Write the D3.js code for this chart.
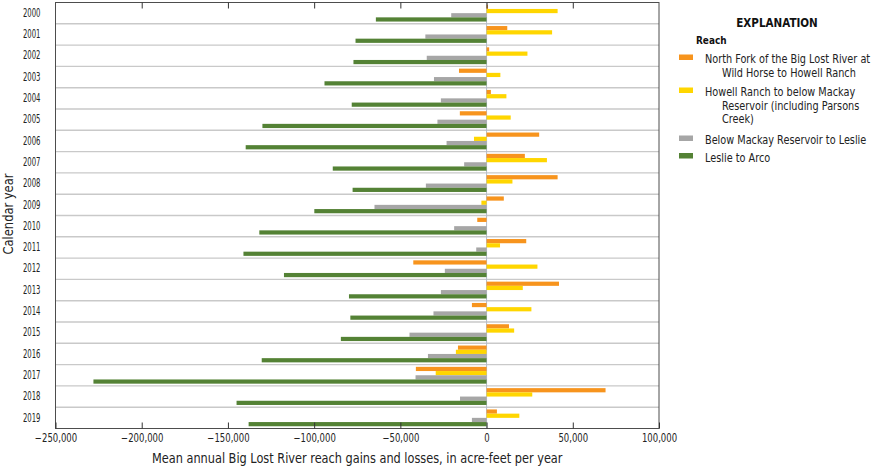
<!DOCTYPE html>
<html>
<head>
<meta charset="utf-8">
<script src="https://cdn.jsdelivr.net/npm/d3@7"></script>
<style>
  body { margin: 0; background: #fff; }
  svg text { font-family: "DejaVu Sans", sans-serif; }
</style>
</head>
<body>
<div id="chart"></div>
<script>
// data (acre-feet per year)
const years = ['2000','2001','2002','2003','2004','2005','2006','2007','2008','2009',
               '2010','2011','2012','2013','2014','2015','2016','2017','2018','2019'];
const reaches = ['North Fork of the Big Lost River at|Wild Horse to Howell Ranch',
                 'Howell Ranch to below Mackay|Reservoir (including Parsons|Creek)',
                 'Below Mackay Reservoir to Leslie',
                 'Leslie to Arco'];
const northFork = [800, 12000, 1500, -16000, 2500, -15500, 30500, 22200, 41200, 10000,
                   -5400, 23000, -42500, 42000, -8500, 13000, -16600, -41000, 69000, 6000];
const howell = [41200, 38000, 23700, 8000, 11500, 14000, -7300, 35000, 15000, -3000,
                0, 7800, 29500, 21000, 26000, 16000, -17800, -29500, 26500, 19000];
const belowMackay = [-20500, -35500, -34700, -30500, -26500, -28500, -23200, -13000, -35200, -65000,
                     -18800, -6000, -24200, -26500, -30800, -44700, -34000, -41200, -15400, -8500];
const leslieArco = [-64200, -76000, -77200, -94000, -78200, -130000, -139700, -89200, -77700, -99900,
                    -131800, -141000, -117500, -79800, -79000, -84500, -130400, -228000, -145000, -138000];
const series = [northFork, howell, belowMackay, leslieArco];
const colors = ['#f7941d', '#ffd600', '#a6a6a6', '#548235'];
const xTicks = [-250000, -200000, -150000, -100000, -50000, 0, 50000, 100000];

const width = 883, height = 467;
const plot = { left: 55.5, right: 659, top: 2.5, bottom: 428.5 };

const svg = d3.select('#chart').append('svg')
    .attr('width', width)
    .attr('height', height);

// no condensed face is installed, so texts get squeezed horizontally
function placeText(g, x, y, txt, k, rot) {
    return g.append('text')
        .attr('transform', `translate(${x},${y})` + (rot ? ` rotate(${rot})` : '') + ` scale(${k},1)`)
        .text(txt);
}

const x = d3.scaleLinear()
    .domain([-250000, 100000])
    .range([plot.left, plot.right]);

const y = d3.scaleBand()
    .domain(years)
    .range([plot.top, plot.bottom])
    .paddingInner(0.21)
    .paddingOuter(0.105);

const ySub = d3.scaleBand()
    .domain(d3.range(series.length))
    .range([0, y.bandwidth()]);

const fmt = v => (v < 0 ? '\u2212' : '') + d3.format(',')(Math.abs(v));

// year separators
const step = y.step();
svg.append('g')
    .selectAll('line')
    .data(years.slice(1))
    .join('line')
    .attr('x1', plot.left)
    .attr('x2', plot.right)
    .attr('y1', d => plot.top + years.indexOf(d) * step)
    .attr('y2', d => plot.top + years.indexOf(d) * step)
    .attr('stroke', '#c9c9c9')
    .attr('stroke-width', 1.4);

// zero line
svg.append('line')
    .attr('x1', x(0)).attr('x2', x(0))
    .attr('y1', plot.top).attr('y2', plot.bottom)
    .attr('stroke', '#b4bccb')
    .attr('stroke-width', 1);

// bars
const groups = svg.append('g')
    .selectAll('g')
    .data(years)
    .join('g')
    .attr('transform', d => `translate(0,${y(d)})`);

groups.selectAll('rect')
    .data((d, i) => series.map((s, k) => ({ k: k, v: s[i] })))
    .join('rect')
    .attr('x', d => x(Math.min(0, d.v)))
    .attr('width', d => Math.abs(x(d.v) - x(0)))
    .attr('y', d => ySub(d.k))
    .attr('height', ySub.bandwidth())
    .attr('fill', d => colors[d.k]);

// frame
svg.append('rect')
    .attr('x', plot.left).attr('y', plot.top)
    .attr('width', plot.right - plot.left)
    .attr('height', plot.bottom - plot.top)
    .attr('fill', 'none')
    .attr('stroke', '#4d4d4d')
    .attr('stroke-width', 1);

// ticks, pointing inward at top and bottom
const bottomAxis = d3.axisBottom(x).tickValues(xTicks).tickSize(-6).tickPadding(0).tickFormat(fmt);
const gb = svg.append('g')
    .attr('transform', `translate(0,${plot.bottom})`)
    .call(bottomAxis);
gb.select('.domain').remove();
gb.selectAll('line').attr('stroke', '#333');
gb.selectAll('text')
    .attr('fill', '#222')
    .attr('font-size', 11.5)
    .attr('font-family', null)
    .attr('y', 13.2)
    .attr('dy', null)
    .attr('transform', 'scale(0.74,1)');

const topAxis = d3.axisTop(x).tickValues(xTicks.slice(1, -1)).tickSize(-6).tickFormat('');
const gt = svg.append('g')
    .attr('transform', `translate(0,${plot.top})`)
    .call(topAxis);
gt.select('.domain').remove();
gt.selectAll('line').attr('stroke', '#333');

// year labels
const leftAxis = d3.axisLeft(y).tickSize(0).tickPadding(0);
const gl = svg.append('g')
    .attr('transform', `translate(${plot.left - 15},0)`)
    .call(leftAxis);
gl.select('.domain').remove();
gl.selectAll('text')
    .attr('fill', '#222')
    .attr('font-size', 11.5)
    .attr('font-family', null)
    .attr('x', 0)
    .attr('transform', 'scale(0.6,1)');

// axis titles
placeText(svg, (plot.left + plot.right) / 2, 463,
    'Mean annual Big Lost River reach gains and losses, in acre-feet per year', 0.81)
    .attr('text-anchor', 'middle')
    .attr('font-size', 14)
    .attr('fill', '#222');

placeText(svg, 12.5, 214, 'Calendar year', 0.82, -90)
    .attr('text-anchor', 'middle')
    .attr('font-size', 14)
    .attr('fill', '#222');

// legend
const legend = svg.append('g').attr('class', 'legend');
placeText(legend, 777, 27.3, 'EXPLANATION', 0.83)
    .attr('text-anchor', 'middle')
    .attr('font-weight', 'bold')
    .attr('font-size', 12.5)
    .attr('fill', '#111');
placeText(legend, 696, 44, 'Reach', 0.85)
    .attr('font-weight', 'bold')
    .attr('font-size', 10.5)
    .attr('fill', '#111');

const lineH = 13.5;
const entryY = [63, 96, 144, 161.5];
reaches.forEach((r, i) => {
    const lines = r.split('|');
    legend.append('rect')
        .attr('x', 679).attr('y', entryY[i] - 8.5)
        .attr('width', 14).attr('height', 5.5)
        .attr('fill', colors[i]);
    lines.forEach((t, j) => {
        placeText(legend, j === 0 ? 705 : 722, entryY[i] + j * lineH, t, 0.845)
            .attr('font-size', 11.5)
            .attr('fill', '#222');
    });
});
</script>
</body>
</html>
